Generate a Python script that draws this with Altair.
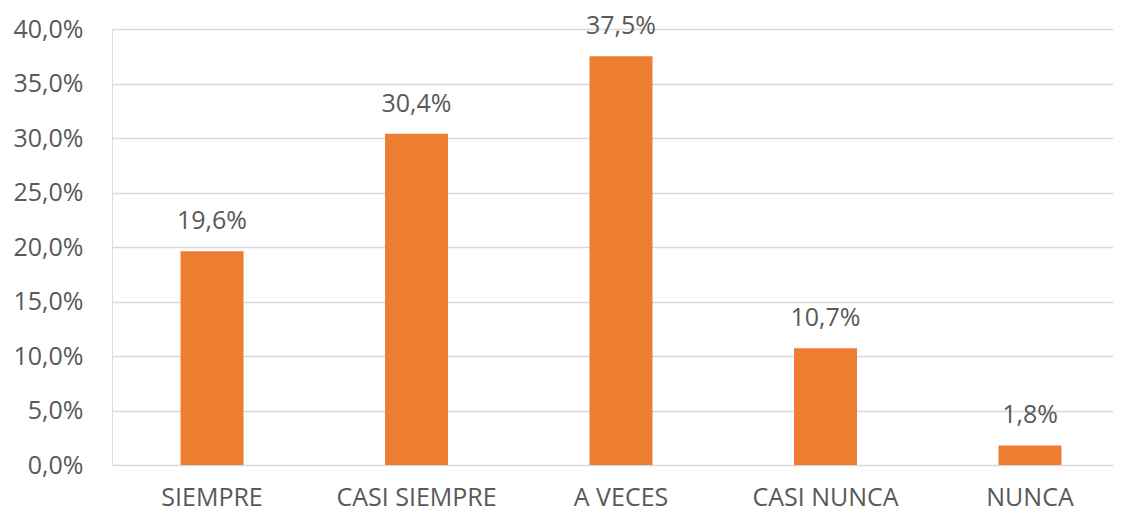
import altair as alt
import pandas as pd

categories = ["SIEMPRE", "CASI SIEMPRE", "A VECES", "CASI NUNCA", "NUNCA"]
values = [19.6, 30.4, 37.5, 10.7, 1.8]
labels = [f"{v:.1f}%".replace(".", ",") for v in values]

df = pd.DataFrame({"cat": categories, "val": values, "lab": labels})

FONT = "Open Sans"
GRAY = "#595959"
FS = 25

base = alt.Chart(df).encode(
    x=alt.X("cat:N", sort=categories, title=None,
            scale=alt.Scale(paddingInner=0.692, paddingOuter=0.2935, align=0.571),
            axis=alt.Axis(labelAngle=0, labelFont=FONT, labelFontSize=FS, labelColor=GRAY,
                          domain=False, ticks=False, labelPadding=20, grid=False)),
    y=alt.Y("val:Q", title=None,
            scale=alt.Scale(domain=[0, 40]),
            axis=alt.Axis(values=[0, 5, 10, 15, 20, 25, 30, 35, 40],
                          labelExpr="replace(format(datum.value, '.1f'), '.', ',') + '%'",
                          labelFont=FONT, labelFontSize=FS, labelColor=GRAY,
                          domain=False, ticks=False, labelPadding=29,
                          gridColor="#d9d9d9", gridWidth=1.5)),
)

bars = base.mark_bar(color="#ED7D31")
text = base.mark_text(dy=-30, font=FONT, fontSize=FS, color=GRAY).encode(text="lab:N")

chart = (bars + text).properties(
    width=1001, height=436,
    autosize=alt.AutoSizeParams(type="none"),
    padding={"left": 104, "top": 21, "right": 0, "bottom": 46},
).configure_view(stroke=None).configure(background="white")

chart.save("out.html", embed_options={"renderer": "svg", "actions": False})
